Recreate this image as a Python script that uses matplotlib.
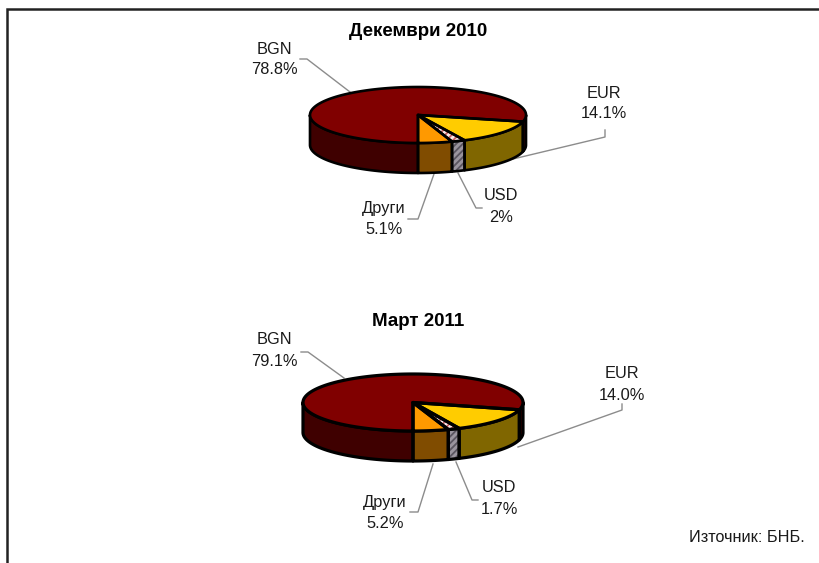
import numpy as np
import matplotlib
matplotlib.use('Agg')
import matplotlib.pyplot as plt
from matplotlib.patches import Polygon

plt.rcParams['font.family'] = ['Liberation Sans', 'DejaVu Sans']
plt.rcParams['hatch.linewidth'] = 1.3

# shares, counter-clockwise from the bottom of the pie
categories = ['Други', 'USD', 'EUR', 'BGN']
dec_2010 = [5.1, 2.0, 14.1, 78.8]
mar_2011 = [5.2, 1.7, 14.0, 79.1]
dec_labels = ['5.1%', '2%', '14.1%', '78.8%']
mar_labels = ['5.2%', '1.7%', '14.0%', '79.1%']
titles = ['Декември 2010', 'Март 2011']
source = 'Източник: БНБ.'

top_colors = ['#FF9900', '#FBE6E6', '#FFCC00', '#800000']
side_colors = ['#804C00', '#9A949E', '#806600', '#3F0000']
top_hatch = [None, '#C86060', None, None]
side_hatch = [None, '#5A5560', None, None]

LINE = '#8C8C8C'
TEXT = '#1A1A1A'


def arc(cx, cy, rx, ry, t0, t1, dy=0):
    t = np.radians(np.linspace(t0, t1, max(int(abs(t1 - t0)) * 2, 2)))
    return np.column_stack([cx + rx * np.sin(t), cy + ry * np.cos(t) + dy])


def patch(ax, pts, color, hatch, z, lw):
    ax.add_patch(Polygon(pts, closed=True, facecolor=color, edgecolor='none', zorder=z))
    if hatch:
        ax.add_patch(Polygon(pts, closed=True, facecolor='none', edgecolor=hatch,
                             hatch='/////', lw=0, zorder=z))
    ax.add_patch(Polygon(pts, closed=True, fill=False, edgecolor='black', lw=lw,
                         joinstyle='round', zorder=z + 0.5))


def pie3d(ax, values, cx, cy, rx, ry, depth, lw):
    edges = np.concatenate([[0], np.cumsum(values)]) / np.sum(values) * 360
    # side walls, only the front half is visible
    for i in range(len(values)):
        for lo, hi in [(0, 90), (270, 360)]:
            t0, t1 = max(edges[i], lo), min(edges[i + 1], hi)
            if t1 <= t0:
                continue
            a = arc(cx, cy, rx, ry, t0, t1)
            b = arc(cx, cy, rx, ry, t1, t0, depth)
            patch(ax, np.vstack([a, b]), side_colors[i], side_hatch[i], 2, lw)
    # top faces
    for i in [3, 2, 1, 0]:
        a = arc(cx, cy, rx, ry, edges[i], edges[i + 1])
        patch(ax, np.vstack([[cx, cy], a]), top_colors[i], top_hatch[i], 3, lw)


def leader(ax, pts):
    xs, ys = zip(*pts)
    ax.plot(xs, ys, color=LINE, lw=1.0, zorder=1)


def label(ax, x, y0, y1, name, pct):
    ax.text(x, y0, name, ha='center', va='center', fontsize=11.8, color=TEXT)
    ax.text(x, y1, pct, ha='center', va='center', fontsize=11.8, color=TEXT)


fig = plt.figure(figsize=(8.2, 5.63), dpi=100)
ax = fig.add_axes([0, 0, 1, 1])
ax.set_xlim(0, 820)
ax.set_ylim(563, 0)
ax.axis('off')

# frame, open on the right and at the bottom
ax.plot([7.5, 7.5, 820], [563, 9, 9], color='#222222', lw=1.8, solid_joinstyle='miter')

pie3d(ax, dec_2010, 418, 115, 108, 28, 30, 1.9)
pie3d(ax, mar_2011, 413, 402.5, 110, 28.5, 30, 2.3)

ax.text(418, 31.5, titles[0], ha='center', va='center', fontsize=13.5, fontweight='bold', color='black')
ax.text(418, 321, titles[1], ha='center', va='center', fontsize=13.5, fontweight='bold', color='black')

leader(ax, [(300, 59), (307, 59), (350, 92)])
leader(ax, [(605, 130), (605, 137), (513, 159)])
leader(ax, [(458, 173), (476, 208), (482, 208)])
leader(ax, [(434, 174), (418, 219), (408, 219)])
label(ax, 274, 49, 69, categories[3], dec_labels[3])
label(ax, 604, 93, 114, categories[2], dec_labels[2])
label(ax, 501, 196, 217, categories[1], dec_labels[1])
label(ax, 384, 209, 229, categories[0], dec_labels[0])

leader(ax, [(301, 352), (308, 352), (344, 378)])
leader(ax, [(622, 404), (622, 410), (518, 447)])
leader(ax, [(456, 462), (472, 500), (478, 500)])
leader(ax, [(433, 464), (418, 512), (410, 512)])
label(ax, 274, 340, 361, categories[3], mar_labels[3])
label(ax, 622, 373, 395, categories[2], mar_labels[2])
label(ax, 499, 487, 509, categories[1], mar_labels[1])
label(ax, 385, 502, 523, categories[0], mar_labels[0])

ax.text(805, 537, source, ha='right', va='center', fontsize=11.7, color=TEXT)

fig.savefig('out.png', dpi=100)
